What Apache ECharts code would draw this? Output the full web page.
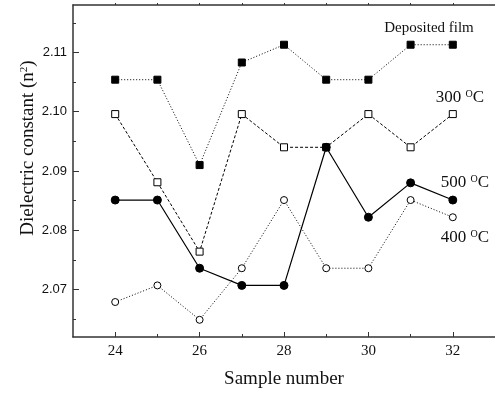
<!DOCTYPE html>
<html>
<head>
<meta charset="utf-8">
<script src="https://cdn.jsdelivr.net/npm/echarts@6/dist/echarts.min.js"></script>
<style>
  html, body { margin: 0; padding: 0; background: #fff; }
  #chart { width: 495px; height: 394px; }
</style>
</head>
<body>
<div id="chart"></div>
<script>
  // sample numbers
  var samples = [24, 25, 26, 27, 28, 29, 30, 31, 32];
  // dielectric constant per film
  var deposited = [2.1054, 2.1054, 2.0910, 2.1083, 2.1113, 2.1054, 2.1054, 2.1113, 2.1113];
  var t300 = [2.0996, 2.0881, 2.0764, 2.0996, 2.0940, 2.0940, 2.0996, 2.0940, 2.0996];
  var t500 = [2.0851, 2.0851, 2.0736, 2.0707, 2.0707, 2.0940, 2.0822, 2.0880, 2.0851];
  var t400 = [2.0679, 2.0707, 2.0649, 2.0736, 2.0851, 2.0736, 2.0736, 2.0851, 2.0822];

  var xMajor = [24, 26, 28, 30, 32];
  var xMinor = [25, 27, 29, 31];
  var xTop = [24, 25, 26, 27, 28, 29, 30, 31, 32];
  var yMajor = [2.07, 2.08, 2.09, 2.10, 2.11];
  var yMinor = [2.065, 2.075, 2.085, 2.095, 2.105, 2.115];

  var serif = 'Liberation Serif';
  var sans = 'Liberation Sans';
  var ink = '#111';

  function pts(vals) {
    return vals.map(function (v, i) { return [samples[i], v]; });
  }

  function degLabel(txt) {
    return {
      text: '{a|' + txt + ' }{s|O}{a|C}', align: 'center', verticalAlign: 'middle',
      rich: {
        a: { fontFamily: serif, fontSize: 17, fill: ink },
        s: { fontFamily: serif, fontSize: 10, fill: ink, verticalAlign: 'top' }
      }
    };
  }

  var chart = echarts.init(document.getElementById('chart'));

  var axisLine = { show: true, onZero: false, lineStyle: { color: '#333', width: 1.5 } };

  chart.setOption({
    animation: false,
    grid: { left: 73, top: 5, width: 424, height: 334 },
    xAxis: [
      {
        type: 'value', min: 23, max: 33, position: 'bottom',
        axisLine: axisLine,
        axisTick: { inside: true, length: 5, customValues: xMajor, lineStyle: { color: '#333' } },
        axisLabel: { customValues: xMajor, margin: 7, fontFamily: serif, fontSize: 15, color: ink },
        splitLine: { show: false },
        name: 'Sample number', nameLocation: 'middle', nameGap: 33,
        nameTextStyle: { fontFamily: serif, fontSize: 19, color: ink }
      },
      {
        type: 'value', min: 23, max: 33, position: 'bottom',
        axisLine: { show: false },
        axisTick: { inside: true, length: 3, customValues: xMinor, lineStyle: { color: '#333' } },
        axisLabel: { show: false },
        splitLine: { show: false }
      },
      {
        type: 'value', min: 23, max: 33, position: 'top',
        axisLine: axisLine,
        axisTick: { inside: false, length: 2, customValues: xTop, lineStyle: { color: '#333' } },
        axisLabel: { show: false },
        splitLine: { show: false }
      }
    ],
    yAxis: [
      {
        type: 'value', min: 2.062, max: 2.118, position: 'left',
        axisLine: axisLine,
        axisTick: { inside: true, length: 6, customValues: yMajor, lineStyle: { color: '#333' } },
        axisLabel: {
          customValues: yMajor, margin: 6, fontFamily: sans, fontSize: 13, color: ink,
          formatter: function (v) { return v.toFixed(2); }
        },
        splitLine: { show: false }
      },
      {
        type: 'value', min: 2.062, max: 2.118, position: 'left',
        axisLine: { show: false },
        axisTick: { inside: true, length: 3, customValues: yMinor, lineStyle: { color: '#333' } },
        axisLabel: { show: false },
        splitLine: { show: false }
      }
    ],
    series: [
      {
        name: 'Deposited film', type: 'line', data: pts(deposited),
        symbol: 'rect', symbolSize: 7,
        lineStyle: { color: '#000', width: 1, type: [1, 2] },
        itemStyle: { color: '#000', borderColor: '#000', borderWidth: 1 }
      },
      {
        name: '300 °C', type: 'line',
        data: pts(t300).map(function (p, i) {
          // at sample 29 the marker is drawn filled in the figure
          return samples[i] === 29 ? { value: p, itemStyle: { color: '#000' } } : p;
        }),
        symbol: 'rect', symbolSize: 7,
        lineStyle: { color: '#000', width: 1, type: [3, 2] },
        itemStyle: { color: '#fff', borderColor: '#000', borderWidth: 1 }
      },
      {
        name: '500 °C', type: 'line', data: pts(t500),
        symbol: 'circle', symbolSize: 8,
        lineStyle: { color: '#000', width: 1.2, type: 'solid' },
        itemStyle: { color: '#000', borderColor: '#000', borderWidth: 1 }
      },
      {
        name: '400 °C', type: 'line', data: pts(t400),
        symbol: 'circle', symbolSize: 7,
        lineStyle: { color: '#000', width: 1, type: [1, 2] },
        itemStyle: { color: '#fff', borderColor: '#000', borderWidth: 1 }
      }
    ],
    graphic: [
      {
        type: 'text', x: 28, y: 148, rotation: Math.PI / 2,
        style: {
          text: '{a|Dielectric constant (n}{s|2}{a|)}',
          align: 'center', verticalAlign: 'middle',
          rich: {
            a: { fontFamily: serif, fontSize: 19, fill: ink },
            s: { fontFamily: serif, fontSize: 11, fill: ink, verticalAlign: 'top' }
          }
        }
      },
      {
        type: 'text', x: 429, y: 28,
        style: { text: 'Deposited film', fontFamily: serif, fontSize: 15, fill: ink, align: 'center', verticalAlign: 'middle' }
      },
      { type: 'text', x: 460, y: 98, style: degLabel('300') },
      { type: 'text', x: 465, y: 183, style: degLabel('500') },
      { type: 'text', x: 465, y: 238, style: degLabel('400') }
    ]
  });
</script>
</body>
</html>
